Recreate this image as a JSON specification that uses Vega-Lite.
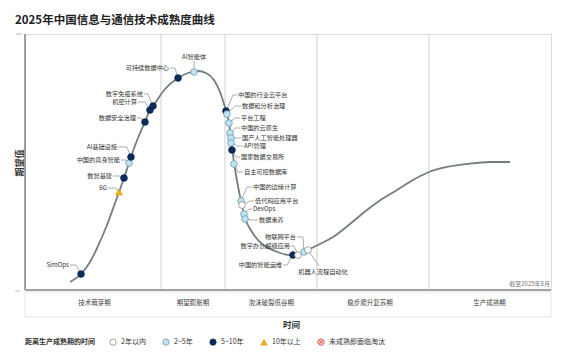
{
  "$schema": "https://vega.github.io/schema/vega-lite/v6.json",
  "width": 526,
  "height": 256,
  "autosize": {"type": "none"},
  "padding": {"left": 25, "top": 34, "right": 25, "bottom": 65},
  "background": "white",
  "config": {
    "font": "Noto Sans CJK SC",
    "view": {"stroke": "#dcdcdc"},
    "legend": {
      "orient": "none",
      "legendX": 0,
      "legendY": 304,
      "direction": "horizontal",
      "titleOrient": "left",
      "titleFontSize": 7,
      "titleFontWeight": "bold",
      "titleColor": "#333",
      "titleBaseline": "middle",
      "titlePadding": 14,
      "titleLimit": 300,
      "labelFontSize": 7,
      "labelColor": "#333",
      "labelOffset": 4,
      "columnPadding": 15,
      "symbolSize": 40,
      "symbolStrokeWidth": 0.8
    }
  },
  "title": {
    "text": "2025年中国信息与通信技术成熟度曲线",
    "anchor": "start",
    "frame": "group",
    "fontSize": 11.5,
    "fontWeight": "bold",
    "color": "#222",
    "dx": -10,
    "offset": 1,
    "baseline": "middle"
  },
  "datasets": {
    "curve": [
      {"t": 8.56, "e": 3.13}, {"t": 10.65, "e": 6.25}, {"t": 12.36, "e": 10.94}, {"t": 13.88, "e": 17.19},
      {"t": 15.59, "e": 25.39}, {"t": 17.11, "e": 33.98}, {"t": 17.87, "e": 38.28}, {"t": 18.82, "e": 43.75},
      {"t": 19.77, "e": 49.61}, {"t": 20.15, "e": 51.95}, {"t": 21.48, "e": 59.38}, {"t": 22.81, "e": 65.63},
      {"t": 23.76, "e": 70.31}, {"t": 24.33, "e": 71.88}, {"t": 26.62, "e": 78.52}, {"t": 29.09, "e": 82.81},
      {"t": 30.99, "e": 84.77}, {"t": 32.89, "e": 85.55}, {"t": 34.41, "e": 84.77}, {"t": 35.93, "e": 82.03},
      {"t": 37.07, "e": 77.34}, {"t": 38.21, "e": 69.92}, {"t": 38.78, "e": 65.23}, {"t": 39.16, "e": 59.38},
      {"t": 39.54, "e": 52.73}, {"t": 40.11, "e": 44.92}, {"t": 41.06, "e": 34.77}, {"t": 41.83, "e": 28.13},
      {"t": 43.16, "e": 22.66}, {"t": 45.06, "e": 17.97}, {"t": 47.53, "e": 15.23}, {"t": 50.38, "e": 13.67},
      {"t": 52.28, "e": 14.06}, {"t": 53.8, "e": 15.63}, {"t": 56.08, "e": 17.97}, {"t": 58.56, "e": 20.7},
      {"t": 61.79, "e": 25.78}, {"t": 65.02, "e": 31.25}, {"t": 67.87, "e": 35.55}, {"t": 70.72, "e": 39.06},
      {"t": 73.76, "e": 42.97}, {"t": 76.81, "e": 46.09}, {"t": 80.23, "e": 48.05}, {"t": 84.03, "e": 49.22},
      {"t": 88.4, "e": 50.0}, {"t": 92.21, "e": 50.0}
    ],
    "phases": [
      {"phase": "技术萌芽期", "start": 0, "end": 25.86, "mid": 13.2},
      {"phase": "期望膨胀期", "start": 25.86, "end": 38.02, "mid": 31.94},
      {"phase": "泡沫破裂低谷期", "start": 38.02, "end": 55.51, "mid": 46.8},
      {"phase": "稳步爬升复苏期", "start": 55.51, "end": 76.81, "mid": 65.6},
      {"phase": "生产成熟期", "start": 76.81, "end": 100, "mid": 88.3}
    ],
    "guides": [
      {"label": "时间", "gx": 50.67, "gy": -13.7, "ang": 0, "size": 8.5},
      {"label": "期望值", "gx": -0.86, "gy": 49.6, "ang": 270, "size": 9}
    ],
    "ticks": [
      {"a": -1.71, "b": -0.57, "v": 100},
      {"a": -1.9, "b": -0.95, "v": -0.4}
    ],
    "tech": [
      {"name": "SimOps", "cat": "5~10年", "x": 10.65, "y": 6.25, "side": "L", "lx": 8.37, "ly": 9.77, "sx": 8.56, "sy": 9.77, "ex": 9.7, "ey": 9.77},
      {"name": "6G", "cat": "10年以上", "x": 17.87, "y": 38.28, "side": "L", "lx": 15.59, "ly": 39.84, "sx": 15.78, "sy": 39.84, "ex": 17.3, "ey": 39.84},
      {"name": "数智基建", "cat": "5~10年", "x": 18.82, "y": 43.75, "side": "L", "lx": 16.54, "ly": 44.53, "sx": 16.73, "sy": 44.53, "ex": 18.06, "ey": 44.53},
      {"name": "中国的具身智能", "cat": "2~5年", "x": 19.77, "y": 49.61, "side": "L", "lx": 18.06, "ly": 50.78, "sx": 18.25, "sy": 50.78, "ex": 19.2, "ey": 50.78},
      {"name": "AI基础设施", "cat": "5~10年", "x": 20.15, "y": 51.95, "side": "L", "lx": 17.49, "ly": 55.86, "sx": 17.68, "sy": 55.86, "ex": 19.39, "ey": 55.86},
      {"name": "数据安全治理", "cat": "5~10年", "x": 22.81, "y": 65.63, "side": "L", "lx": 21.1, "ly": 67.19, "sx": 21.29, "sy": 67.19, "ex": 22.05, "ey": 67.19},
      {"name": "机密计算", "cat": "5~10年", "x": 23.76, "y": 70.31, "side": "L", "lx": 21.29, "ly": 73.44, "sx": 21.48, "sy": 73.44, "ex": 22.81, "ey": 73.44},
      {"name": "数字免疫系统", "cat": "5~10年", "x": 24.33, "y": 71.88, "side": "L", "lx": 22.43, "ly": 76.56, "sx": 22.62, "sy": 76.56, "ex": 23.38, "ey": 76.56},
      {"name": "可持续数据中心", "cat": "5~10年", "x": 29.09, "y": 82.81, "side": "L", "lx": 27.38, "ly": 86.72, "sx": 27.57, "sy": 86.72, "ex": 28.52, "ey": 86.72},
      {"name": "AI智能体", "cat": "2~5年", "x": 32.13, "y": 85.16, "side": "C", "lx": 32.13, "ly": 91.02, "sx": 32.13, "sy": 89.45, "ex": 32.13, "ey": 89.45},
      {"name": "中国的行业云平台", "cat": "5~10年", "x": 38.21, "y": 69.92, "side": "R", "lx": 40.49, "ly": 76.17, "sx": 40.3, "sy": 76.17, "ex": 39.54, "ey": 76.17},
      {"name": "数据和分析治理", "cat": "2~5年", "x": 38.4, "y": 68.75, "side": "R", "lx": 41.25, "ly": 71.88, "sx": 41.06, "sy": 71.88, "ex": 39.92, "ey": 71.88},
      {"name": "平台工程", "cat": "2~5年", "x": 38.78, "y": 65.23, "side": "R", "lx": 41.06, "ly": 67.19, "sx": 40.87, "sy": 67.19, "ex": 39.92, "ey": 67.19},
      {"name": "中国的云原生", "cat": "2~5年", "x": 38.97, "y": 61.33, "side": "R", "lx": 41.06, "ly": 63.28, "sx": 40.87, "sy": 63.28, "ex": 39.92, "ey": 63.28},
      {"name": "国产人工智能处理器", "cat": "2~5年", "x": 39.16, "y": 59.38, "side": "R", "lx": 41.25, "ly": 59.38, "sx": 41.06, "sy": 59.38, "ex": 40.11, "ey": 59.38},
      {"name": "API管理", "cat": "2~5年", "x": 39.16, "y": 57.42, "side": "R", "lx": 41.63, "ly": 56.25, "sx": 41.44, "sy": 56.25, "ex": 40.49, "ey": 56.25},
      {"name": "国家数据交易所", "cat": "5~10年", "x": 39.35, "y": 54.69, "side": "R", "lx": 41.06, "ly": 51.95, "sx": 40.87, "sy": 51.95, "ex": 40.11, "ey": 51.95},
      {"name": "自主可控数据库", "cat": "2~5年", "x": 39.73, "y": 49.22, "side": "R", "lx": 41.63, "ly": 46.09, "sx": 41.44, "sy": 46.09, "ex": 40.49, "ey": 46.09},
      {"name": "中国的边缘计算", "cat": "2~5年", "x": 41.06, "y": 34.77, "side": "R", "lx": 43.35, "ly": 40.23, "sx": 43.16, "sy": 40.23, "ex": 42.21, "ey": 40.23},
      {"name": "低代码应用平台", "cat": "2年以内", "x": 41.25, "y": 33.2, "side": "R", "lx": 43.73, "ly": 34.77, "sx": 43.54, "sy": 34.77, "ex": 42.78, "ey": 34.77},
      {"name": "DevOps", "cat": "2~5年", "x": 41.63, "y": 29.69, "side": "R", "lx": 43.35, "ly": 31.64, "sx": 43.16, "sy": 31.64, "ex": 42.59, "ey": 31.64},
      {"name": "数据素养", "cat": "2~5年", "x": 41.83, "y": 27.73, "side": "R", "lx": 44.49, "ly": 27.34, "sx": 44.3, "sy": 27.34, "ex": 43.16, "ey": 27.34},
      {"name": "中国的智能运维", "cat": "5~10年", "x": 50.95, "y": 13.67, "side": "L", "lx": 48.86, "ly": 9.77, "sx": 49.05, "sy": 9.77, "ex": 49.81, "ey": 9.77},
      {"name": "数字办公超级应用", "cat": "2年以内", "x": 51.9, "y": 13.67, "side": "L", "lx": 50.38, "ly": 17.19, "sx": 50.57, "sy": 17.19, "ex": 51.14, "ey": 17.19},
      {"name": "物联网平台", "cat": "2~5年", "x": 53.04, "y": 14.84, "side": "L", "lx": 51.52, "ly": 20.7, "sx": 51.71, "sy": 20.7, "ex": 52.85, "ey": 20.7},
      {"name": "机器人流程自动化", "cat": "2年以内", "x": 53.8, "y": 15.63, "side": "C", "lx": 56.65, "ly": 7.03, "sx": 55.89, "sy": 9.38, "ex": 55.89, "ey": 9.38}
    ]
  },
  "encoding": {
    "x": {"type": "quantitative", "scale": {"domain": [0, 100], "nice": false, "zero": false}, "axis": null},
    "y": {"type": "quantitative", "scale": {"domain": [0, 100], "nice": false, "zero": false}, "axis": null}
  },
  "layer": [
    {
      "data": {"values": [{"band": "阶段"}]},
      "mark": {"type": "rect", "fill": "white", "stroke": "#e4e4e4", "strokeWidth": 1},
      "encoding": {
        "x": {"datum": 0, "type": "quantitative", "axis": null},
        "x2": {"datum": 100},
        "y": {"datum": -0.78, "type": "quantitative", "axis": null},
        "y2": {"datum": -10.55}
      }
    },
    {
      "data": {"name": "phases"},
      "transform": [{"filter": "datum.start > 0"}],
      "mark": {"type": "rule", "color": "#cfcfcf", "strokeWidth": 1},
      "encoding": {
        "x": {"field": "start", "type": "quantitative", "axis": null},
        "y": {"datum": 0, "type": "quantitative", "axis": null},
        "y2": {"datum": 100}
      }
    },
    {
      "data": {"name": "phases"},
      "mark": {"type": "text", "fontSize": 6.5, "color": "#444", "baseline": "middle", "align": "center"},
      "encoding": {
        "x": {"field": "mid", "type": "quantitative", "axis": null},
        "y": {"datum": -5.2, "type": "quantitative", "axis": null},
        "text": {"field": "phase"}
      }
    },
    {
      "data": {"name": "guides"},
      "mark": {"type": "text", "fontWeight": "bold", "color": "#333", "baseline": "middle", "align": "center"},
      "encoding": {
        "x": {"field": "gx", "type": "quantitative", "axis": null},
        "y": {"field": "gy", "type": "quantitative", "axis": null},
        "text": {"field": "label"},
        "angle": {"field": "ang", "type": "quantitative", "scale": null},
        "size": {"field": "size", "type": "quantitative", "scale": null}
      }
    },
    {
      "data": {"name": "ticks"},
      "mark": {"type": "rule", "color": "#bdbdbd", "strokeWidth": 1},
      "encoding": {
        "x": {"field": "a", "type": "quantitative", "axis": null},
        "x2": {"field": "b"},
        "y": {"field": "v", "type": "quantitative", "axis": null}
      }
    },
    {
      "data": {"name": "curve"},
      "mark": {"type": "line", "color": "#737f7d", "strokeWidth": 1.8, "interpolate": "monotone"},
      "encoding": {
        "x": {"field": "t", "type": "quantitative", "axis": null},
        "y": {"field": "e", "type": "quantitative", "axis": null}
      }
    },
    {
      "data": {"values": [{"edge": "左"}]},
      "mark": {"type": "rule", "color": "#858585", "strokeWidth": 1.5},
      "encoding": {
        "x": {"datum": 0, "type": "quantitative", "axis": null},
        "y": {"datum": 0, "type": "quantitative", "axis": null},
        "y2": {"datum": 100}
      }
    },
    {
      "data": {"values": [{"edge": "下"}]},
      "mark": {"type": "rule", "color": "#a3a3a3", "strokeWidth": 2},
      "encoding": {
        "x": {"datum": 0, "type": "quantitative", "axis": null},
        "x2": {"datum": 100},
        "y": {"datum": 0, "type": "quantitative", "axis": null}
      }
    },
    {
      "data": {"name": "tech"},
      "mark": {"type": "rule", "color": "#8a8a8a", "strokeWidth": 0.7},
      "encoding": {
        "x": {"field": "sx", "type": "quantitative", "axis": null},
        "y": {"field": "sy", "type": "quantitative", "axis": null},
        "x2": {"field": "ex"},
        "y2": {"field": "ey"}
      }
    },
    {
      "data": {"name": "tech"},
      "mark": {"type": "rule", "color": "#8a8a8a", "strokeWidth": 0.7},
      "encoding": {
        "x": {"field": "ex", "type": "quantitative", "axis": null},
        "y": {"field": "ey", "type": "quantitative", "axis": null},
        "x2": {"field": "x"},
        "y2": {"field": "y"}
      }
    },
    {
      "data": {"name": "tech"},
      "mark": {"type": "point", "filled": true, "size": 45, "strokeWidth": 0.8, "opacity": 1},
      "encoding": {
        "x": {"field": "x", "type": "quantitative", "axis": null},
        "y": {"field": "y", "type": "quantitative", "axis": null},
        "color": {
          "field": "cat", "type": "nominal", "title": "距离生产成熟期的时间",
          "scale": {"domain": ["2年以内", "2~5年", "5~10年", "10年以上", "未成熟即面临淘汰"],
                    "range": ["#ffffff", "#bfe3f1", "#0c2b5b", "#f2b21f", "#fbd3cf"]}
        },
        "shape": {
          "field": "cat", "type": "nominal", "title": "距离生产成熟期的时间",
          "scale": {"domain": ["2年以内", "2~5年", "5~10年", "10年以上", "未成熟即面临淘汰"],
                    "range": ["circle", "circle", "circle", "triangle-up",
                              "M-1,0A1,1,0,1,0,1,0A1,1,0,1,0,-1,0ZM-0.55,-0.55L0.55,0.55M0.55,-0.55L-0.55,0.55"]}
        },
        "stroke": {
          "field": "cat", "type": "nominal", "title": "距离生产成熟期的时间",
          "scale": {"domain": ["2年以内", "2~5年", "5~10年", "10年以上", "未成熟即面临淘汰"],
                    "range": ["#8f8f8f", "#6e9db2", "#0c2b5b", "#e0a010", "#e2372c"]}
        }
      }
    },
    {
      "data": {"name": "tech"},
      "transform": [{"filter": "datum.side === 'L'"}],
      "mark": {"type": "text", "fontSize": 6.2, "color": "#333", "align": "right", "baseline": "middle"},
      "encoding": {
        "x": {"field": "lx", "type": "quantitative", "axis": null},
        "y": {"field": "ly", "type": "quantitative", "axis": null},
        "text": {"field": "name"}
      }
    },
    {
      "data": {"name": "tech"},
      "transform": [{"filter": "datum.side === 'R'"}],
      "mark": {"type": "text", "fontSize": 6.2, "color": "#333", "align": "left", "baseline": "middle"},
      "encoding": {
        "x": {"field": "lx", "type": "quantitative", "axis": null},
        "y": {"field": "ly", "type": "quantitative", "axis": null},
        "text": {"field": "name"}
      }
    },
    {
      "data": {"name": "tech"},
      "transform": [{"filter": "datum.side === 'C'"}],
      "mark": {"type": "text", "fontSize": 6.2, "color": "#333", "align": "center", "baseline": "middle"},
      "encoding": {
        "x": {"field": "lx", "type": "quantitative", "axis": null},
        "y": {"field": "ly", "type": "quantitative", "axis": null},
        "text": {"field": "name"}
      }
    },
    {
      "data": {"values": [{"note": "截至2025年8月"}]},
      "mark": {"type": "text", "fontSize": 6, "color": "#777", "align": "right", "baseline": "middle"},
      "encoding": {
        "x": {"datum": 99.8, "type": "quantitative", "axis": null},
        "y": {"datum": 2.4, "type": "quantitative", "axis": null},
        "text": {"field": "note"}
      }
    }
  ]
}
